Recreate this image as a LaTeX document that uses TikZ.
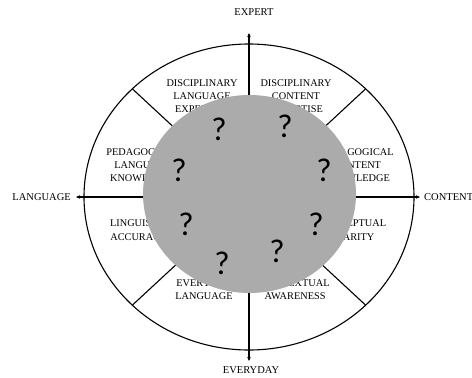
\documentclass[tikz,border=0pt]{standalone}
\usepackage{fontspec}
\setmainfont{Liberation Serif}
\newfontfamily\qfont{Carlito}
\usetikzlibrary{arrows.meta,calc}
\begin{document}
\begin{tikzpicture}[x=1pt,y=-1pt,
  lbl/.style={font=\fontsize{10.3}{13.3}\selectfont, align=center, inner sep=0pt},
  axlbl/.style={font=\fontsize{10.5}{12}\selectfont, inner sep=0pt},
  qm/.style={font=\qfont\fontsize{33}{33}\selectfont, inner sep=0pt},
  ln/.style={line width=1.1pt},
  ax/.style={line width=1.1pt, -{Stealth[length=4pt,width=3.5pt]}}]
\useasboundingbox (0,0) rectangle (472,378);
\clip (0,0) rectangle (472,378);
\coordinate (c) at (249,197);
\coordinate (top) at (249,33);
\coordinate (bot) at (249,361);
\coordinate (lft) at (76,197);
\coordinate (rgt) at (420,197);
\draw[ln] (c) ellipse [x radius=165, y radius=153];
\foreach \a in {45,135,225,315}
  \draw[ln] (c) -- ($(c)+({165*cos(\a)},{-153*sin(\a)})$);
\draw[ax] (c) -- (top);
\draw[ax] (c) -- (bot);
\draw[ax] (c) -- (lft);
\draw[ax] (c) -- (rgt);
\node[axlbl] (expert) at (254,12) {EXPERT};
\node[axlbl] (everyday) at (251,370) {EVERYDAY};
\node[axlbl, anchor=east] (language) at (71,197) {LANGUAGE};
\node[axlbl, anchor=west] (content) at (424,197) {CONTENT};
\node[lbl] (dle) at (202,96) {DISCIPLINARY\\LANGUAGE\\EXPERTISE};
\node[lbl] (dce) at (296,96) {DISCIPLINARY\\CONTENT\\EXPERTISE};
\node[lbl] (plk) at (143,165) {PEDAGOGICAL\\LANGUAGE\\KNOWLEDGE};
\node[lbl] (pck) at (357,165) {PEDAGOGICAL\\CONTENT\\KNOWLEDGE};
\node[lbl] (la) at (139,230) {LINGUISTIC\\ACCURACY};
\node[lbl] (cc) at (352,230) {CONCEPTUAL\\CLARITY};
\node[lbl] (el) at (204,289.5) {EVERYDAY\\LANGUAGE};
\node[lbl] (ca) at (295,289.5) {CONTEXTUAL\\AWARENESS};
\fill[black!33] (249.5,194) ellipse [x radius=106.5, y radius=99];
\node[qm] (q1) at (219,129) {?};
\node[qm] (q2) at (285,126) {?};
\node[qm] (q3) at (179,170) {?};
\node[qm] (q4) at (324,170) {?};
\node[qm] (q5) at (186,224) {?};
\node[qm] (q6) at (316,224) {?};
\node[qm] (q7) at (222,263) {?};
\node[qm] (q8) at (277,251) {?};
\end{tikzpicture}
\end{document}
